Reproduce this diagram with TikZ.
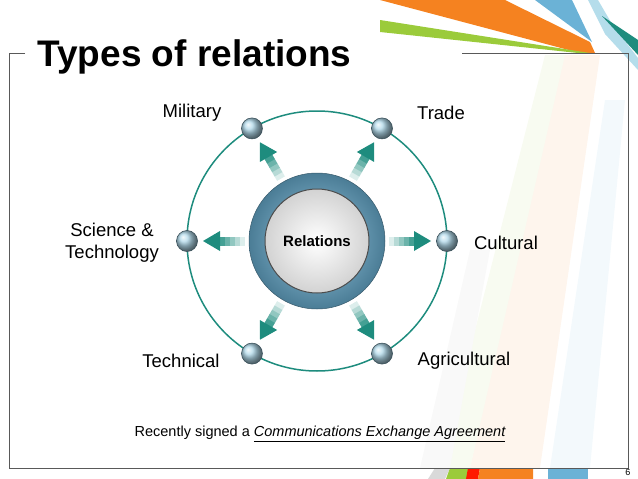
\documentclass[tikz,border=0pt]{standalone}
\usepackage{fontspec}
\setmainfont{Liberation Sans}
\usetikzlibrary{arrows.meta}
\definecolor{tl}{HTML}{1E8C7E}
\definecolor{orng}{HTML}{F58220}
\definecolor{lgrn}{HTML}{9BCB3B}
\definecolor{sky}{HTML}{6BB2D6}
\definecolor{pale}{HTML}{B5DDEB}
\definecolor{ball}{HTML}{8FC8E0}
\tikzset{lbl/.style={font=\fontsize{18.5}{22}\selectfont,align=center},
 ballst/.style={circle,minimum size=21pt,inner sep=0pt,draw=ball!40!black,line width=0.6pt,ball color=ball!70!white}}
\begin{document}
\begin{tikzpicture}[x=1pt,y=-1pt]
\useasboundingbox (0,0) rectangle (638,479);
% decorations
\fill[orng!8] (560,55) -- (600,55) -- (540,468) -- (470,468) -- cycle;
\fill[lgrn!7] (545,55) -- (565,55) -- (470,468) -- (440,468) -- cycle;
\fill[sky!8] (605,100) -- (625,100) -- (590,468) -- (550,468) -- cycle;
\fill[gray!5] (470,250) -- (490,250) -- (450,468) -- (420,468) -- cycle;
\fill[orng] (380,0) -- (505,0) -- (590,42) -- (595,53) -- (580,53) -- cycle;
\fill[lgrn] (380,20) -- (380,32) -- (578,53) -- (590,53) -- cycle;
\fill[sky] (535,0) -- (572,0) -- (592,42) -- cycle;
\fill[pale] (588,0) -- (598,0) -- (612,24) -- (638,58) -- (638,70) -- (605,34) -- cycle;
\fill[tl] (602,16) -- (638,40) -- (638,55) -- cycle;
\fill[gray!30] (435,468) -- (450,468) -- (445,479) -- (428,479) -- cycle;
\fill[lgrn] (450,468) -- (472,468) -- (468,479) -- (446,479) -- cycle;
\fill[red!80!orange] (468,468) -- (480,468) -- (478,479) -- (466,479) -- cycle;
\fill[orng] (480,468) -- (533,468) -- (533,479) -- (478,479) -- cycle;
\fill[sky] (548,468) -- (588,468) -- (588,479) -- (548,479) -- cycle;
% frame
\draw[gray!70!black,line width=0.6pt] (25,53) -- (9,53) -- (9,468) -- (628,468) -- (628,53) -- (462,53);
\node[anchor=west,font=\bfseries\fontsize{37}{42}\selectfont] (title) at (34,57) {Types of relations};
\node[anchor=east,font=\fontsize{9}{10}\selectfont] (pg) at (634,472) {6};
% orbit
\coordinate (c) at (317,241);
\draw[tl,line width=1.5pt] (c) circle[radius=130];
% arrows
\foreach \a in {0,60,120,180,240,300}{
 \begin{scope}[shift={(c)},rotate=-\a]
  \foreach \i in {0,...,4}{
   \pgfmathsetmacro{\p}{15+\i*17}
   \fill[tl!\p] ({72+\i*5},-4.5) rectangle ({77.5+\i*5},4.5);}
  \fill[tl] (97,-10) -- (114,0) -- (97,10) -- cycle;
 \end{scope}}
% center button
\node[circle,minimum size=136pt,inner sep=0pt,draw=sky!50!black,line width=0.5pt,inner color=sky!70!white,outer color=sky!70!black] (ring) at (c) {};
\node[circle,minimum size=104pt,inner sep=0pt,draw=black!70,line width=1pt,inner color=white,outer color=gray!35] (rel) at (c) {\bfseries\fontsize{15}{17}\selectfont Relations};
% balls
\begin{scope}[shift={(c)}]
\node[ballst] (b0) at (0:130) {};
\node[ballst] (b1) at (-60:130) {};
\node[ballst] (b2) at (-120:130) {};
\node[ballst] (b3) at (180:130) {};
\node[ballst] (b4) at (120:130) {};
\node[ballst] (b5) at (60:130) {};
\end{scope}
\node[lbl] (l0) at (506,243) {Cultural};
\node[lbl] (l1) at (441,113) {Trade};
\node[lbl] (l2) at (192,113) {Military};
\node[lbl] (l3) at (112,243) {Science \&\\Technology};
\node[lbl] (l4) at (181,361) {Technical};
\node[lbl] (l5) at (464,361) {Agricultural};
\node[font=\fontsize{14.5}{17}\selectfont] (note) at (320,434) {Recently signed a \underline{\itshape Communications Exchange Agreement}};
\end{tikzpicture}
\end{document}
